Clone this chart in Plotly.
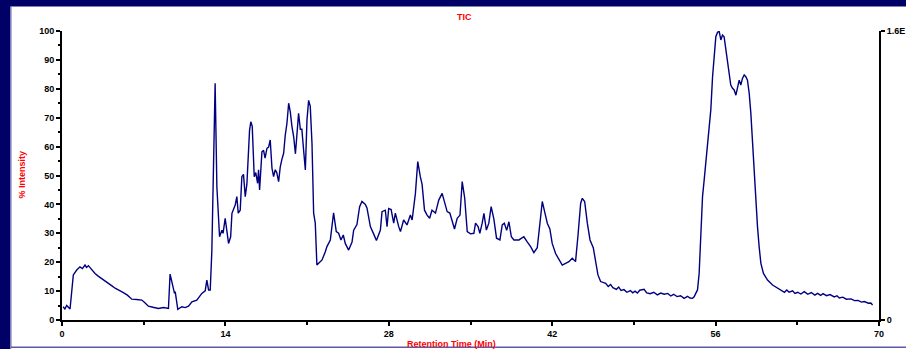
import plotly.graph_objects as go

# Retention time (min)
rt = [0.1, 0.25, 0.4, 0.55, 0.69, 0.97, 1.26, 1.54, 1.75, 1.97, 2.1, 2.26, 2.5, 2.83, 3.1, 3.4, 3.7, 3.97,
      4.25, 4.55, 4.9, 5.26, 5.6, 5.98, 6.4, 6.84, 7.1, 7.4, 7.8, 8.26, 8.7, 9.12, 9.26, 9.46, 9.64, 9.7,
      9.92, 10.27, 10.55, 10.84, 11.13, 11.55, 11.98, 12.27, 12.41, 12.56, 12.7, 12.84, 13.12, 13.27, 13.5,
      13.7, 13.8, 13.98, 14.1, 14.27, 14.45, 14.56, 14.84, 14.98, 15.1, 15.27, 15.41, 15.55, 15.7, 15.84,
      16.07, 16.18, 16.3, 16.47, 16.6, 16.76, 16.84, 16.93, 17.13, 17.27, 17.4, 17.56, 17.7, 17.84, 17.99,
      18.13, 18.27, 18.4, 18.56, 18.7, 18.84, 18.99, 19.13, 19.27, 19.42, 19.56, 19.7, 19.85, 20.0, 20.13,
      20.27, 20.42, 20.55, 20.7, 20.85, 20.99, 21.13, 21.27, 21.42, 21.56, 21.7, 21.84, 21.99, 22.28, 22.56,
      22.7, 22.99, 23.27, 23.5, 23.7, 23.9, 24.1, 24.27, 24.56, 24.85, 24.99, 25.27, 25.5, 25.7, 25.99,
      26.13, 26.42, 26.7, 26.94, 27.28, 27.42, 27.7, 27.85, 27.99, 28.2, 28.42, 28.56, 28.85, 29.0, 29.27,
      29.56, 29.85, 30.0, 30.28, 30.48, 30.7, 30.85, 31.06, 31.28, 31.5, 31.7, 32.0, 32.28, 32.57, 32.85,
      33.0, 33.23, 33.43, 33.63, 33.86, 34.1, 34.29, 34.5, 34.72, 35.0, 35.29, 35.43, 35.65, 35.8, 36.0,
      36.15, 36.36, 36.57, 36.77, 37.0, 37.23, 37.52, 37.72, 37.9, 38.1, 38.29, 38.5, 38.72, 39.15, 39.57,
      39.86, 40.15, 40.43, 40.72, 40.95, 41.15, 41.35, 41.58, 41.8, 42.0, 42.29, 42.57, 42.86, 43.15, 43.43,
      43.72, 44.0, 44.2, 44.44, 44.58, 44.78, 45.01, 45.24, 45.52, 45.72, 45.92, 46.15,
      46.58, 46.8, 47.0, 47.2, 47.5, 47.7, 47.9, 48.15, 48.4, 48.7, 48.9, 49.1, 49.3, 49.5, 49.87,
      50.1, 50.4, 50.7, 51.01, 51.3, 51.6, 51.9, 52.16, 52.4, 52.7, 53.0, 53.3, 53.6, 53.8, 54.02,
      54.16, 54.3, 54.45,
      54.59, 54.73, 54.88, 55.02, 55.16, 55.3, 55.45, 55.59, 55.74, 55.87, 56.02, 56.16, 56.3, 56.45,
      56.59, 56.73, 56.88, 57.02, 57.16, 57.3, 57.45, 57.59, 57.74, 57.88, 58.02, 58.16, 58.3, 58.45,
      58.59, 58.73, 58.88, 59.02, 59.17, 59.3, 59.45, 59.59, 59.73, 59.88, 60.1, 60.45, 60.88, 61.31,
      61.6, 61.9, 62.1, 62.3, 62.6, 62.8, 63.03, 63.3, 63.6, 63.9, 64.2, 64.5, 64.74, 65.0, 65.2,
      65.5, 65.8, 66.17, 66.4, 66.6, 66.9, 67.2, 67.6, 67.9, 68.2, 68.5, 68.74, 69.1, 69.3, 69.45]

# % Intensity
intensity = [4.6, 3.8, 5.0, 4.4, 3.8, 15.6, 17.3, 18.4, 17.8, 19.0, 18.2, 18.8, 17.5, 16.1, 15.2, 14.4, 13.6, 12.7,
             11.9, 11.0, 10.3, 9.5, 8.6, 7.2, 7.1, 6.9, 6.0, 4.8, 4.4, 4.0, 4.3, 4.0, 15.9, 12.7, 9.2, 9.8,
             3.7, 4.6, 4.3, 4.8, 6.3, 6.9, 9.2, 10.1, 13.8, 10.4, 10.4, 24, 81.9, 46, 28.8,
             31.1, 30, 35.2, 32, 26.5, 28.8, 36.9, 39.8, 42.7, 37, 38, 49.6, 50.4, 42.7, 47,
             65.7, 68.6, 67, 49.6, 51, 47.3, 52, 45, 58.2, 58.7, 56, 59.4, 59.8, 62.3, 52.5,
             49.6, 52, 51, 47.9, 53, 55.6, 57.7, 64, 68, 75, 72, 67, 63.4, 57.5, 63,
             71.5, 66, 66, 58.8, 51.9, 69.2, 76, 74, 61, 37, 33.5, 19, 19.6, 20.8, 23.6,
             25.4, 27.7, 37.1, 30.6, 30, 27.7, 29.4, 26.5, 24.2, 27, 31.1, 33, 39.2, 41, 40,
             38.8, 32.3, 29.8, 27.5, 31.1, 37.5, 38, 32.3, 38.6, 38.2, 33.5, 37, 32.3, 30.6, 34.6,
             32.9, 36.3, 34.6, 43.8, 54.8, 49.6, 47, 38, 36.3, 35.2, 38, 37, 41.5, 43.8, 39.2,
             37.5, 37, 34, 31.5, 35.2, 36.3, 47.9, 42.3, 30.6, 29.8, 30, 33.5, 32.3, 30, 33.5,
             36.9, 31.1, 33.5, 39.2, 35, 28.3, 27.7, 32.9, 33.5, 31, 34, 28.8, 27.7, 27.7, 28.8,
             27, 25.4, 23.3, 25, 33.5, 41, 37.5, 33.5, 31.5, 26.5, 23, 20.8, 19, 19.6, 20.2,
             21.4, 20.2, 28.8, 40.4, 42.1, 41, 33.5, 27.7, 25, 20.8, 15.6, 13.3,
             12.7, 11.6, 12.3, 11.2, 10.6, 11.4, 10.2, 10.5, 9.6, 10.2, 9.4, 10.0, 9.3, 10.3, 10.6,
             9.4, 9.1, 9.6, 8.7, 9.3, 8.9, 9.2, 8.3, 8.9, 8.1, 8.4, 7.5, 8.2, 7.6, 7.5,
             8, 9.2, 10.4,
             16.1, 32.3, 42.7, 48.4, 54.2, 58.8, 65.7, 72.7, 84.2, 91.1, 98, 99.5, 100, 96.9,
             98.6, 98, 93.4, 88.8, 84.2, 81.3, 80.2, 79.6, 77.8, 80.7, 83, 81.3, 83.6, 84.8,
             84.2, 83, 78.4, 71.5, 60, 49.6, 39.2, 32.3, 25.4, 19.6, 16.1, 13.8, 12.1, 11,
             10.4, 9.6, 10.4, 9.6, 10.1, 9.2, 9.6, 9.0, 9.8, 8.9, 9.5, 8.6, 9.2, 8.5, 9.1,
             8.4, 8.8, 8.0, 8.4, 7.6, 7.9, 7.2, 7.3, 6.7, 6.8, 6.2, 6.4, 5.8, 5.9, 5.2]

x_ticks = [0, 14, 28, 42, 56, 70]
y_ticks = [0, 10, 20, 30, 40, 50, 60, 70, 80, 90, 100]
right_vals = [0, 1.6]
right_text = ["0", "1.6E"]

NAVY = "#000066"
FONT = "Liberation Sans"

fig = go.Figure()
fig.add_trace(go.Scatter(x=rt, y=intensity, mode="lines",
                         line=dict(color="#000080", width=1.4), showlegend=False, hoverinfo="skip"))
fig.add_trace(go.Scatter(x=[None], y=[None], yaxis="y2", showlegend=False))

tickfont = dict(family=FONT, size=9, color="black", weight="bold")

fig.update_layout(
    width=906, height=349,
    margin=dict(l=62, r=27, t=31, b=29, autoexpand=False),
    paper_bgcolor="white", plot_bgcolor="white",
    xaxis=dict(range=[0, 70], tickvals=x_ticks, ticktext=[str(v) for v in x_ticks], automargin=False,
               showgrid=False, zeroline=False, showline=True, linecolor="black", linewidth=2,
               ticks="outside", ticklen=4, tickwidth=2, tickcolor="black", tickfont=tickfont,
               minor=dict(dtick=7, tick0=0, ticks="outside", ticklen=3, tickwidth=2, tickcolor="black")),
    yaxis=dict(range=[0, 100], tickvals=y_ticks, showgrid=False, zeroline=False, showline=True,
               automargin=False,
               linecolor="black", linewidth=2, ticks="outside", ticklen=4, tickwidth=2,
               tickcolor="black", tickfont=tickfont,
               minor=dict(dtick=5, tick0=0, ticks="outside", ticklen=2, tickwidth=2, tickcolor="black")),
    yaxis2=dict(range=[0, 1.6], overlaying="y", side="right", tickvals=right_vals, ticktext=right_text,
                automargin=False,
                showgrid=False, zeroline=False, showline=True, linecolor="black", linewidth=2,
                ticks="outside", ticklen=4, tickwidth=2, tickcolor="black", tickfont=tickfont),
)

W, H = 817.0, 289.0
def px(xp):
    return (xp - 62) / W
def py(yp):
    return (320.5 - yp) / H

shapes = [
    dict(type="rect", xref="paper", yref="paper", x0=px(-5), x1=px(10.5), y0=py(360), y1=py(-5),
         fillcolor=NAVY, line=dict(width=0), layer="above"),
    dict(type="rect", xref="paper", yref="paper", x0=px(-5), x1=px(915), y0=py(7), y1=py(-5),
         fillcolor=NAVY, line=dict(width=0), layer="above"),
    dict(type="line", xref="paper", yref="paper", x0=px(11.2), x1=px(11.2), y0=py(349), y1=py(7),
         line=dict(color="#8c8cc8", width=1), layer="above"),
    dict(type="line", xref="paper", yref="paper", x0=px(11), x1=px(910), y0=py(347.8), y1=py(347.8),
         line=dict(color="#5a5aa8", width=1.5), layer="above"),
]
fig.update_layout(shapes=shapes)

red = dict(family=FONT, size=9, color="#ff0000", weight="bold")
fig.add_annotation(text="TIC", xref="paper", yref="paper", x=px(464.5), y=py(17.5),
                   showarrow=False, font=red, xanchor="center", yanchor="middle")
fig.add_annotation(text="% Intensity", xref="paper", yref="paper", x=px(22), y=py(175),
                   showarrow=False, font=red, textangle=-90, xanchor="center", yanchor="middle")
fig.add_annotation(text="Retention Time (Min)", xref="paper", yref="paper", x=px(451), y=py(344),
                   showarrow=False, font=red, xanchor="center", yanchor="middle")

fig.write_html("out.html", config={"displayModeBar": False},
               post_script="document.body.style.margin='0';document.body.style.padding='0';"
                           "document.body.style.overflow='hidden';")
